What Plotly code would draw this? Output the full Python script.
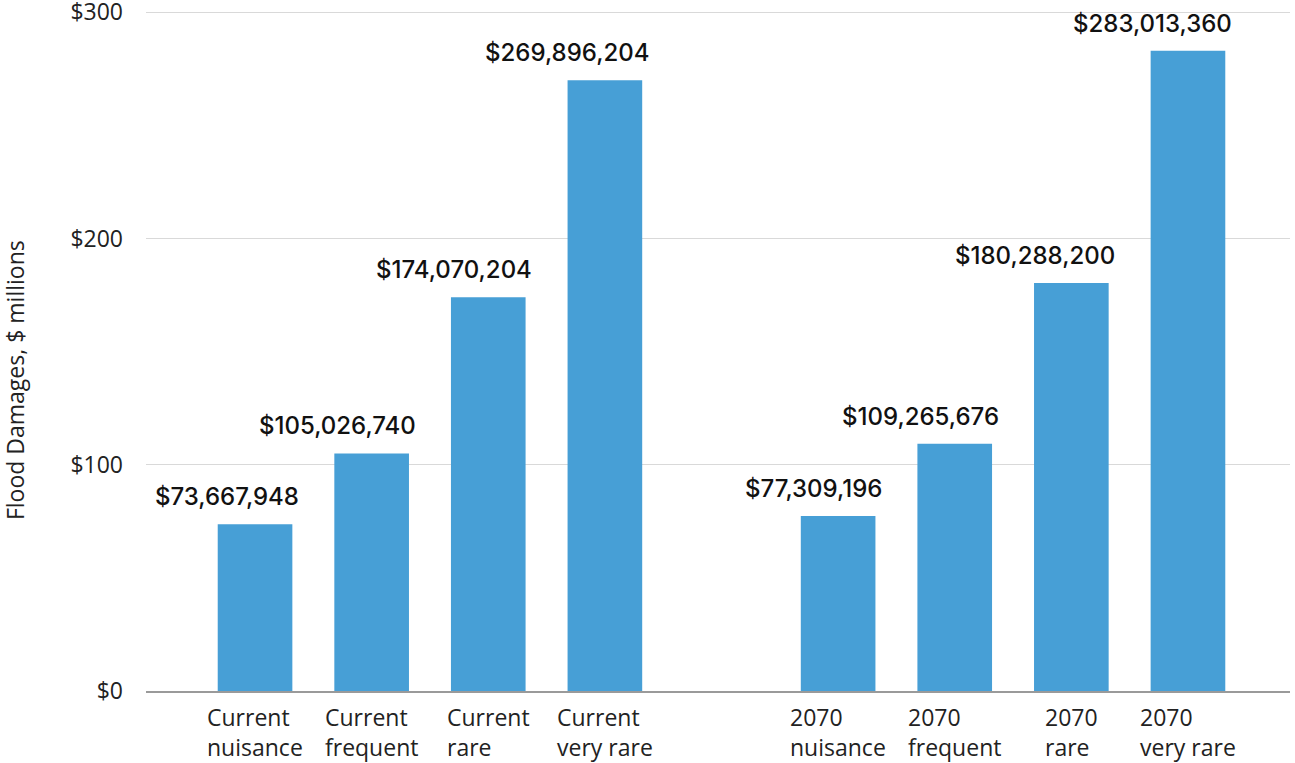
import plotly.graph_objects as go

categories = ["Current<br>nuisance", "Current<br>frequent", "Current<br>rare", "Current<br>very rare",
              "2070<br>nuisance", "2070<br>frequent", "2070<br>rare", "2070<br>very rare"]
damages_usd = [73667948, 105026740, 174070204, 269896204,
               77309196, 109265676, 180288200, 283013360]
y_ticks = [0, 100, 200, 300]

values_m = [v / 1e6 for v in damages_usd]
xpos = [i + (1 if i >= 4 else 0) for i in range(len(categories))]

BAR = "#479fd6"
fig = go.Figure()
fig.add_trace(go.Bar(x=xpos, y=values_m, width=0.64, marker=dict(color=BAR, line=dict(width=0)),
                     hoverinfo="skip"))

ann = []
for x, v, raw in zip(xpos, values_m, damages_usd):
    ann.append(dict(x=x, y=v, xref="x", yref="y", text=f"${raw:,}", showarrow=False,
                    xanchor="right", yanchor="bottom", xshift=46, yshift=11,
                    font=dict(family="Inter", size=24, color="#111111", weight=500)))
for x, c in zip(xpos, categories):
    ann.append(dict(x=x, y=0, xref="x", yref="paper", text=c, showarrow=False, align="left",
                    xanchor="center", yanchor="top", yshift=-8,
                    font=dict(family="Open Sans", size=23, color="#222222")))
ann.append(dict(x=-0.1145, y=0.4566, xref="paper", yref="paper", text="Flood Damages, $ millions",
                showarrow=False, textangle=-90, xanchor="center", yanchor="middle",
                font=dict(family="Open Sans", size=23, color="#222222")))

fig.update_layout(
    width=1295, height=763,
    margin=dict(l=146, r=5, t=10, b=72, autoexpand=False),
    paper_bgcolor="white", plot_bgcolor="white",
    showlegend=False, annotations=ann,
    xaxis=dict(range=[-0.935, 8.875], showticklabels=False, showgrid=False, zeroline=False,
               showline=True, linecolor="#9a9a9a", linewidth=1.5, fixedrange=True,
               automargin=False),
    yaxis=dict(range=[0, 301], tickvals=y_ticks, ticktext=[f"${t}" for t in y_ticks],
               showgrid=True, gridcolor="#d9d9d9", gridwidth=1, zeroline=False,
               showline=False, ticklabelstandoff=22, ticklabeloverflow="allow",
               automargin=False,
               tickfont=dict(family="Open Sans", size=23, color="#222222")),
)

fig.write_html("out.html")
